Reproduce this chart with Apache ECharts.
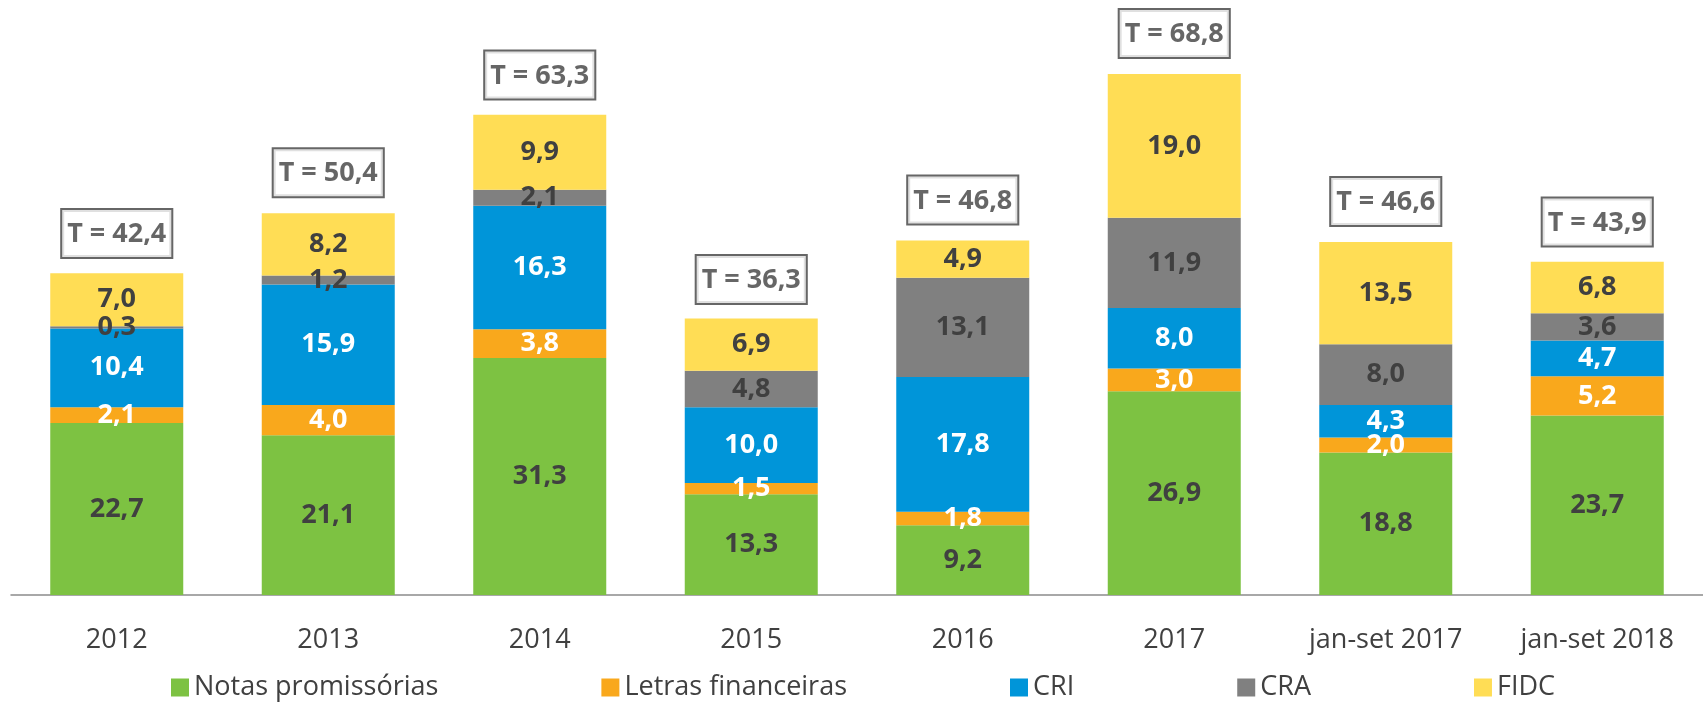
<!DOCTYPE html>
<html>
<head>
<meta charset="utf-8">
<script src="https://cdn.jsdelivr.net/npm/echarts@6/dist/echarts.min.js"></script>
<style>
    html, body {margin: 0; padding: 0; background: #fff;}
    #chart {width: 1703px; height: 702px;}
</style>
</head>
<body>
<div id="chart"></div>
<script>
const categories = ['2012', '2013', '2014', '2015', '2016', '2017', 'jan-set 2017', 'jan-set 2018']

const notas = [22.7, 21.1, 31.3, 13.3, 9.2, 26.9, 18.8, 23.7]
const letras = [2.1, 4.0, 3.8, 1.5, 1.8, 3.0, 2.0, 5.2]
const cri = [10.4, 15.9, 16.3, 10.0, 17.8, 8.0, 4.3, 4.7]
const cra = [0.3, 1.2, 2.1, 4.8, 13.1, 11.9, 8.0, 3.6]
const fidc = [7.0, 8.2, 9.9, 6.9, 4.9, 19.0, 13.5, 6.8]
const totals = [42.4, 50.4, 63.3, 36.3, 46.8, 68.8, 46.6, 43.9]

const FONT = '"Open Sans", "Noto Sans", sans-serif'
const DARK = '#404040'

const fmt = v => v.toFixed(1).replace('.', ',')

const stack_series = (name, data, color, label_color) => ({
    name: name,
    type: 'bar',
    stack: 'total',
    barWidth: 133,
    data: data,
    itemStyle: {color: color},
    label: {
        show: true,
        position: 'inside',
        formatter: p => fmt(p.value),
        color: label_color,
        fontFamily: FONT,
        fontWeight: 'bold',
        fontSize: 27,
    },
    emphasis: {disabled: true},
    animation: false,
})

const chart = echarts.init(document.getElementById('chart'))

chart.setOption({
    animation: false,
    grid: {
        left: 11,
        right: 0,
        top: 27,
        bottom: 107,
    },
    legend: {
        data: ['Notas promissórias', 'Letras financeiras', 'CRI', 'CRA', 'FIDC'],
        left: 166,
        bottom: -4,
        itemWidth: 18,
        itemHeight: 18,
        itemGap: 163,
        icon: 'rect',
        textStyle: {
            fontFamily: FONT,
            fontSize: 27,
            color: DARK,
        },
    },
    xAxis: {
        type: 'category',
        data: categories,
        axisLine: {lineStyle: {color: '#8c8c8c', width: 1.5}},
        axisTick: {length: 11, lineStyle: {color: '#8c8c8c', width: 1.5}},
        axisLabel: {
            fontFamily: FONT,
            fontSize: 27,
            color: DARK,
            margin: 32,
        },
    },
    yAxis: {
        type: 'value',
        min: 0,
        max: 75,
        show: false,
        splitLine: {show: false},
    },
    series: [
        stack_series('Notas promissórias', notas, '#7dc242', DARK),
        stack_series('Letras financeiras', letras, '#f9a81c', '#ffffff'),
        stack_series('CRI', cri, '#0095d9', '#ffffff'),
        stack_series('CRA', cra, '#808080', DARK),
        stack_series('FIDC', fidc, '#ffdd55', DARK),
        {
            name: 'Total',
            type: 'scatter',
            data: totals,
            symbolSize: 0,
            silent: true,
            label: {
                show: true,
                position: 'top',
                distance: 17,
                formatter: p => 'T = ' + fmt(p.value),
                color: DARK,
                fontFamily: FONT,
                fontWeight: 'bold',
                fontSize: 27,
                borderColor: '#404040',
                borderWidth: 2,
                padding: [11, 5, 9, 5],
                backgroundColor: '#ffffff',
            },
            animation: false,
        },
    ],
})
</script>
</body>
</html>
